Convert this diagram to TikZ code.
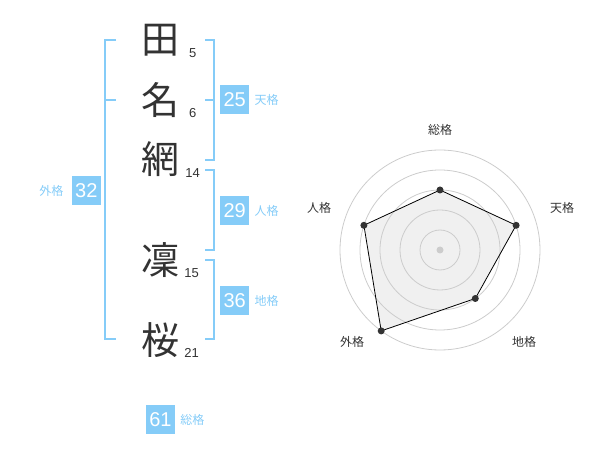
\documentclass[tikz,border=0pt]{standalone}
\usepackage{fontspec}
\setmainfont{Liberation Sans}
\newfontfamily\jpfont{Noto Sans CJK JP}
\usetikzlibrary{positioning}

\definecolor{kakublue}{HTML}{85CCF8}
\definecolor{kanjigray}{HTML}{333333}
\definecolor{ringgray}{HTML}{CCCCCC}
\definecolor{areagray}{HTML}{F0F0F0}

\begin{document}
\begin{tikzpicture}[x=1pt,y=1pt]
\tikzstyle{every node}+=[inner sep=0pt]
\tikzstyle{kanji}=[text=kanjigray, font=\jpfont\fontsize{38}{38}\selectfont]
\tikzstyle{kakusu}=[text=kanjigray, font=\fontsize{13}{13}\selectfont]
\tikzstyle{kaku}=[fill=kakublue, text=white, minimum size=29pt, font=\fontsize{20}{20}\selectfont]
\tikzstyle{kakulabel}=[text=kakublue, font=\jpfont\fontsize{12}{12}\selectfont]
\tikzstyle{bracket}=[kakublue, line width=2pt]
\tikzstyle{axislabel}=[text=kanjigray, font=\jpfont\fontsize{12}{12}\selectfont]
\tikzstyle{ring}=[ringgray, line width=0.8pt]
\tikzstyle{dot}=[circle, fill=kanjigray, minimum size=7pt]
\useasboundingbox (0,0) rectangle (600,-470);
% name
\draw (160,-40) node [kanji] (ta) {田};
\draw (160,-100.5) node [kanji] (na) {名};
\draw (160,-159) node [kanji] (ami) {網};
\draw (160,-260) node [kanji] (rin) {凜};
\draw (160,-340) node [kanji] (sakura) {桜};
\draw (192.7,-52.7) node [kakusu] (ta-n) {5};
\draw (192.7,-112.7) node [kakusu] (na-n) {6};
\draw (192.7,-173) node [kakusu] (ami-n) {14};
\draw (191.7,-272.7) node [kakusu] (rin-n) {15};
\draw (191.7,-352.7) node [kakusu] (sakura-n) {21};
% brackets
\draw [bracket] (116,-40) -- (105,-40) -- (105,-339) -- (116,-339);
\draw [bracket] (105,-100) -- (116,-100);
\draw [bracket] (205,-40) -- (214,-40) -- (214,-160) -- (205,-160);
\draw [bracket] (205,-100) -- (214,-100);
\draw [bracket] (205,-170) -- (214,-170) -- (214,-250) -- (205,-250);
\draw [bracket] (205,-260) -- (214,-260) -- (214,-339) -- (205,-339);
% kakusu boxes
\draw (234.7,-100) node [kaku] (tenkaku) {25};
\draw (234.7,-210.5) node [kaku] (jinkaku) {29};
\draw (234.7,-300.5) node [kaku] (chikaku) {36};
\draw (86.3,-190.5) node [kaku] (gaikaku) {32};
\draw (160.5,-419.5) node [kaku] (soukaku) {61};
\node [kakulabel, right=5pt of tenkaku] {天格};
\node [kakulabel, right=5pt of jinkaku] {人格};
\node [kakulabel, right=5pt of chikaku] {地格};
\node [kakulabel, left=8pt of gaikaku] {外格};
\node [kakulabel, right=5pt of soukaku] {総格};
% radar
\coordinate (center) at (440,-250);
\coordinate (sou) at (440,-190);
\coordinate (ten) at (516.1,-225.3);
\coordinate (chi) at (475.3,-298.5);
\coordinate (gai) at (381.2,-330.9);
\coordinate (jin) at (363.9,-225.3);
\fill [areagray] (sou) -- (ten) -- (chi) -- (gai) -- (jin) -- cycle;
\foreach \r in {20,40,60,80,100}
  \draw [ring] (center) circle (\r);
\draw [black, line width=0.8pt] (sou) -- (ten) -- (chi) -- (gai) -- (jin) -- cycle;
\node [dot] at (sou) {};
\node [dot] at (ten) {};
\node [dot] at (chi) {};
\node [dot] at (gai) {};
\node [dot] at (jin) {};
\fill [ringgray] (center) circle (3.5);
\draw (440,-130) node [axislabel] {総格};
\draw (562,-208) node [axislabel] {天格};
\draw (524,-342) node [axislabel] {地格};
\draw (352,-342) node [axislabel] {外格};
\draw (319,-208) node [axislabel] {人格};
\end{tikzpicture}
\end{document}
